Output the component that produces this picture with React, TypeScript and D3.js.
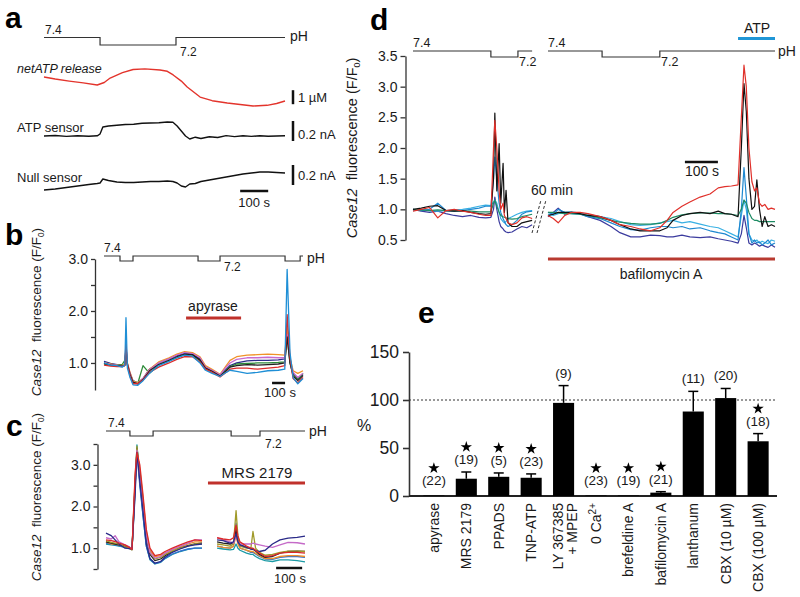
import React, { useEffect, useRef } from "react";
import * as d3 from "d3";

const FONT = "'Liberation Sans', Arial, Helvetica, sans-serif";

// ---------- panel a : netATP / sensors ----------
const A_PH_T = [0, 200, 471, 860];
const A_PH_V = [7.4, 7.2, 7.4, 7.4];
const A_NET_T = [0, 40, 90, 140, 190, 215, 236, 280, 318, 360, 414, 440, 461, 490, 511, 557, 600, 654, 700, 746, 796, 830, 860];
const A_NET = [2.14, 2.0, 1.85, 1.72, 1.57, 1.75, 2.07, 2.45, 2.68, 2.72, 2.64, 2.55, 2.29, 1.85, 1.43, 0.71, 0.45, 0.29, 0.18, 0.07, 0.12, 0.25, 0.43];
const A_SENS_T = [0, 40, 80, 120, 160, 190, 200, 210, 230, 260, 290, 320, 350, 380, 410, 440, 460, 475, 490, 505, 520, 540, 560, 590, 620, 650, 680, 710, 740, 770, 800, 830, 860];
const A_ATP = [0, 0.005, -0.004, 0.003, -0.002, 0.002, 0.02, 0.09, 0.1, 0.108, 0.115, 0.118, 0.127, 0.13, 0.133, 0.14, 0.137, 0.1, 0.05, 0.0, -0.03, -0.012, -0.025, -0.008, -0.015, 0.004, -0.006, 0.003, -0.004, 0.002, -0.003, 0.0, 0.002];
const A_NULL = [0, 0.01, 0.025, 0.04, 0.055, 0.065, 0.07, 0.11, 0.095, 0.08, 0.075, 0.075, 0.08, 0.085, 0.085, 0.09, 0.085, 0.07, 0.04, 0.03, 0.06, 0.065, 0.085, 0.1, 0.115, 0.13, 0.145, 0.16, 0.17, 0.18, 0.18, 0.175, 0.17];

// ---------- panel b : apyrase ----------
const B_PH_T = [0, 123, 223, 723, 892, 1392, 1508, 1530];
const B_PH_V = [7.4, 7.2, 7.4, 7.2, 7.4, 7.2, 7.4, 7.4];
const B_T = [0, 50, 100, 140, 160, 169, 180, 200, 223, 260, 300, 350, 420, 500, 560, 620, 680, 738, 780, 831, 892, 940, 969, 1020, 1100, 1180, 1260, 1340, 1390, 1408, 1430, 1454, 1490, 1530];
const B_NAVY = [1.03, 0.99, 0.97, 0.95, 0.97, 1.25, 0.98, 0.8, 0.66, 0.62, 0.7, 0.88, 1.0, 1.08, 1.14, 1.19, 1.18, 1.08, 0.92, 0.86, 0.76, 0.88, 0.95, 1.0, 1.04, 1.05, 1.05, 1.06, 1.08, 1.6, 1.05, 0.8, 0.7, 0.78];
const B_GREEN = [0.98, 0.96, 0.97, 0.97, 1.05, 1.2, 0.96, 0.78, 0.64, 0.61, 0.95, 0.8, 0.97, 1.04, 1.1, 1.16, 1.15, 1.05, 0.9, 0.84, 0.75, 0.86, 0.93, 0.98, 0.99, 1.0, 1.0, 1.01, 1.02, 1.5, 1.0, 0.78, 0.68, 0.8];
const B_ORANGE = [1.0, 0.98, 0.96, 0.95, 0.98, 1.3, 1.0, 0.82, 0.65, 0.62, 0.7, 0.88, 1.02, 1.1, 1.17, 1.22, 1.2, 1.12, 0.95, 0.88, 0.78, 0.95, 1.05, 1.12, 1.15, 1.16, 1.17, 1.16, 1.15, 1.7, 1.1, 0.85, 0.8, 0.85];
const B_PINK = [1.0, 0.97, 0.96, 0.94, 0.96, 1.35, 0.98, 0.8, 0.63, 0.6, 0.7, 0.87, 1.0, 1.08, 1.15, 1.2, 1.18, 1.1, 0.92, 0.86, 0.77, 0.92, 1.0, 1.07, 1.1, 1.1, 1.11, 1.1, 1.1, 1.55, 1.05, 0.82, 0.72, 0.8];
const B_BLACK = [0.99, 0.96, 0.95, 0.94, 0.95, 1.3, 0.97, 0.78, 0.63, 0.6, 0.68, 0.85, 0.97, 1.05, 1.12, 1.17, 1.16, 1.06, 0.9, 0.84, 0.75, 0.85, 0.92, 0.95, 0.97, 0.96, 0.97, 0.98, 1.0, 1.5, 1.0, 0.75, 0.66, 0.76];
const B_BLUE = [1.0, 0.96, 0.95, 0.92, 0.96, 1.87, 0.9, 0.72, 0.58, 0.57, 0.66, 0.8, 0.95, 1.03, 1.1, 1.15, 1.13, 1.0, 0.86, 0.8, 0.74, 0.82, 0.86, 0.84, 0.8, 0.82, 0.85, 0.86, 0.88, 2.8, 1.2, 0.72, 0.6, 0.7];
const B_RED = [0.96, 0.94, 0.93, 0.93, 0.95, 1.4, 0.95, 0.75, 0.6, 0.6, 0.67, 0.82, 0.92, 1.0, 1.07, 1.12, 1.12, 1.02, 0.88, 0.82, 0.73, 0.82, 0.88, 0.9, 0.9, 0.88, 0.9, 0.92, 0.95, 1.93, 1.1, 0.7, 0.62, 0.72];
const B_APYRASE = [631, 1054];

// ---------- panel c : MRS 2179 (null = gap in recording) ----------
const C_PH_T = [0, 92, 181, 481, 592, 765];
const C_PH_V = [7.4, 7.2, 7.4, 7.2, 7.4, 7.4];
const C_T = [0, 20, 35, 50, 73, 90, 100, 112, 119, 130, 142, 155, 169, 188, 210, 227, 255, 285, 315, 342, 369, 398, 427, 450, 477, 490, 500, 507, 515, 540, 557, 565, 575, 590, 612, 640, 669, 700, 735, 765];
const C_NAVY = [1.36, 1.3, 1.2, 1.1, 1.0, 0.99, 0.98, 2.3, 3.3, 2.6, 1.9, 1.1, 0.75, 0.64, 0.68, 0.78, 0.9, 0.98, 1.05, 1.08, 1.1, null, 1.2, 1.18, 1.12, 1.15, 1.35, 1.15, 1.08, 1.02, 0.98, 0.97, 0.95, 0.92, 0.95, 1.1, 1.2, 1.24, 1.26, 1.29];
const C_PINK = [1.25, 1.22, 1.3, 1.15, 1.08, 1.03, 0.98, 2.5, 3.35, 2.7, 2.0, 1.3, 0.9, 0.76, 0.8, 0.88, 0.97, 1.05, 1.12, 1.2, 1.2, null, 1.25, 1.2, 1.15, 1.12, 1.3, 1.15, 1.1, 1.1, 1.1, 1.12, 1.1, 1.08, 1.05, 1.02, 1.08, 1.14, 1.13, 1.1];
const C_OLIVE = [1.18, 1.14, 1.12, 1.1, 1.04, 1.0, 0.97, 2.5, 3.45, 2.7, 2.0, 1.3, 0.9, 0.74, 0.78, 0.85, 0.93, 1.0, 1.05, 1.1, 1.1, null, 1.1, 1.08, 1.05, 1.1, 1.9, 1.3, 1.05, 1.0, 1.0, 1.4, 1.0, 0.9, 0.83, 0.85, 0.9, 0.93, 0.93, 0.92];
const C_ORANGE = [1.15, 1.1, 1.1, 1.08, 1.05, 1.0, 0.96, 2.7, 3.3, 2.9, 2.2, 1.4, 0.95, 0.8, 0.82, 0.88, 0.96, 1.03, 1.1, 1.15, 1.15, null, 1.05, 1.02, 1.0, 1.05, 1.3, 1.1, 1.0, 0.95, 0.92, 0.92, 0.88, 0.82, 0.75, 0.75, 0.8, 0.82, 0.82, 0.8];
const C_BLACK = [1.15, 1.12, 1.1, 1.08, 1.05, 1.02, 0.98, 2.6, 3.4, 2.8, 2.1, 1.25, 0.85, 0.7, 0.74, 0.82, 0.92, 1.0, 1.06, 1.1, 1.12, null, 1.15, 1.12, 1.1, 1.12, 1.45, 1.2, 1.08, 1.02, 0.98, 0.98, 0.93, 0.85, 0.78, 0.8, 0.88, 0.92, 0.93, 0.92];
const C_BLUE = [1.12, 1.1, 1.08, 1.06, 1.03, 1.0, 0.97, 2.5, 3.3, 2.5, 1.8, 1.05, 0.74, 0.63, 0.67, 0.76, 0.86, 0.93, 0.98, 1.0, 1.0, null, 1.05, 1.02, 1.0, 1.05, 1.6, 1.15, 1.0, 0.95, 0.9, 0.9, 0.86, 0.8, 0.74, 0.73, 0.78, 0.8, 0.8, 0.78];
const C_TEAL = [1.1, 1.08, 1.07, 1.05, 1.02, 0.99, 0.96, 2.4, 3.48, 2.6, 1.8, 1.05, 0.72, 0.62, 0.66, 0.75, 0.85, 0.92, 0.97, 1.0, 1.0, null, 1.0, 0.98, 0.96, 0.97, 1.1, 1.0, 0.95, 0.88, 0.85, 0.85, 0.8, 0.75, 0.7, 0.68, 0.72, 0.72, 0.7, 0.67];
const C_RED = [1.2, 1.18, 1.16, 1.12, 1.08, 1.02, 0.97, 2.8, 3.3, 3.0, 2.3, 1.45, 1.0, 0.82, 0.85, 0.92, 1.0, 1.08, 1.15, 1.2, 1.18, null, 1.25, 1.22, 1.2, 1.25, 1.55, 1.3, 1.15, 1.05, 1.0, 1.0, 0.95, 0.88, 0.8, 0.82, 0.88, 0.9, 0.9, 0.88];
const C_MRS = [392, 765];

// ---------- panel d : bafilomycin A (null = 60 min break) ----------
const D_PH1_T = [0, 236, 318, 361];
const D_PH2_T = [409, 573, 748, 1097];
const D_PH_V = [7.4, 7.2, 7.4, 7.4];
const D_T = [0, 25, 50, 75, 100, 125, 150, 175, 200, 220, 236, 244, 248, 254, 261, 266, 273, 277, 282, 288, 300, 315, 330, 345, 361,
  385,
  409, 425, 440, 460, 480, 506, 530, 567, 600, 627, 660, 688, 720, 748, 770, 788, 815, 839, 870, 900, 925, 945, 965, 985, 995, 1003, 1010, 1018, 1027, 1035, 1042, 1050, 1058, 1066, 1076, 1086, 1097];
const D_NAVY = [1.0, 0.97, 0.95, 0.97, 0.93, 0.9, 0.88, 0.9, 0.87, 0.86, 0.87, 1.0, 1.2, 1.0, 0.8, 0.72, 0.68, 0.65, 0.63, 0.62, 0.63, 0.68, 0.72, 0.7, 0.75,
  null,
  0.88, 0.95, 1.02, 0.92, 0.95, 0.93, 0.88, 0.82, 0.72, 0.62, 0.55, 0.55, 0.58, 0.57, 0.55, 0.55, 0.58, 0.55, 0.54, 0.55, 0.52, 0.5, 0.48, 0.45, 0.6, 0.9, 0.7, 0.45, 0.42, 0.45, 0.43, 0.4, 0.42, 0.4, 0.38, 0.42, 0.38];
const D_SKY = [0.98, 1.0, 0.98, 0.97, 0.98, 0.99, 1.0, 1.02, 1.05, 1.07, 1.06, 1.12, 1.15, 1.1, 0.95, 0.85, 0.8, 0.78, 0.8, 0.85, 0.88, 0.92, 0.95, 0.97, 0.98,
  null,
  0.92, 0.9, 0.93, 0.95, 0.96, 0.94, 0.92, 0.88, 0.85, 0.8, 0.75, 0.74, 0.75, 0.78, 0.8, 0.82, 0.78, 0.8, 0.76, 0.72, 0.7, 0.65, 0.6, 0.55, 0.9, 1.15, 1.0, 0.6, 0.5, 0.48, 0.5, 0.45, 0.48, 0.46, 0.44, 0.5, 0.48];
const D_BLUE = [1.0, 0.98, 1.0, 1.1, 0.98, 0.97, 0.98, 1.0, 1.02, 1.05, 1.05, 1.5, 1.85, 1.5, 1.1, 0.95, 0.85, 0.8, 0.75, 0.72, 0.75, 0.82, 0.92, 0.96, 0.97,
  null,
  0.95, 0.92, 1.0, 0.95, 0.93, 0.92, 0.88, 0.85, 0.78, 0.72, 0.67, 0.66, 0.7, 0.72, 0.72, 0.7, 0.72, 0.68, 0.7, 0.65, 0.62, 0.6, 0.55, 0.5, 1.0, 1.68, 1.2, 0.6, 0.45, 0.5, 0.45, 0.47, 0.42, 0.45, 0.5, 0.42, 0.45];
const D_GREEN = [1.0, 0.99, 0.98, 0.99, 0.98, 0.98, 0.97, 0.97, 0.96, 0.96, 0.96, 1.1, 1.15, 1.05, 0.95, 0.9, 0.88, 0.87, 0.86, 0.85, 0.84, 0.85, 0.88, 0.9, 0.92,
  null,
  0.95, 0.95, 0.94, 0.93, 0.93, 0.92, 0.9, 0.86, 0.82, 0.79, 0.77, 0.76, 0.76, 0.77, 0.82, 0.87, 0.91, 0.93, 0.94, 0.94, 0.93, 0.93, 0.92, 0.9, 1.0, 1.15, 1.1, 0.95, 0.85, 0.82, 0.82, 0.8, 0.8, 0.8, 0.8, 0.8, 0.8];
const D_BLACK = [1.0, 1.02, 1.05, 1.06, 0.98, 0.97, 0.98, 0.95, 0.93, 0.92, 0.93, 1.5, 2.57, 1.3, 2.07, 1.1, 1.75, 0.95, 1.31, 0.78, 0.72, 0.72, 0.78, 0.8, 0.82,
  null,
  0.9, 0.92, 0.95, 0.95, 0.95, 0.93, 0.9, 0.88, 0.82, 0.75, 0.68, 0.65, 0.65, 0.65, 0.7, 0.82, 0.9, 0.93, 0.95, 0.93, 0.97, 0.93, 0.92, 0.88, 2.0, 3.05, 2.6, 1.5, 1.0, 1.05, 1.48, 1.0, 0.72, 0.88, 0.72, 0.75, 0.72];
const D_RED = [0.97, 1.0, 1.03, 0.86, 0.98, 1.0, 0.97, 0.95, 0.92, 0.9, 0.9, 2.0, 2.45, 2.0, 1.3, 1.0, 1.1, 0.9, 0.85, 0.78, 0.75, 0.78, 0.86, 0.88, 0.85,
  null,
  0.9, 0.85, 0.78, 0.9, 0.95, 0.95, 0.93, 0.88, 0.82, 0.75, 0.72, 0.68, 0.65, 0.7, 0.82, 0.95, 1.05, 1.12, 1.2, 1.25, 1.35, 1.37, 1.38, 1.4, 2.5, 3.35, 3.0, 2.0, 1.45, 1.3, 1.35, 1.1, 1.05, 1.08, 1.0, 1.02, 1.0];
const D_ATP = [985, 1097];
const D_BAFILO = [409, 1097];

// ---------- panel e : summary ----------
const E_CATS = ["apyrase", "MRS 2179", "PPADS", "TNP-ATP", "LY 367385", "0 Ca", "brefeldine A", "bafilomycin A", "lanthanum", "CBX (10 µM)", "CBX (100 µM)"];
const E_MEAN = [0.5, 18, 20, 19, 97, 0.5, 0.5, 3.5, 88, 102, 57];
const E_SEM = [0, 7, 4, 4, 18, 0, 0, 1, 21, 10, 8];
const E_N = [22, 19, 5, 23, 9, 23, 19, 21, 11, 20, 18];
const E_SIG = [true, true, true, true, false, true, true, true, false, false, true];

const App = () => {
  const svgRef = useRef<SVGSVGElement>(null);

  useEffect(() => {
    const svg = d3.select(svgRef.current);
    svg.selectAll("*").remove();
    svg.append("rect").attr("width", 800).attr("height", 597).attr("fill", "#fff");

    const text = (x: number, y: number, s: string, size = 13, anchor = "start") =>
      svg.append("text").attr("x", x).attr("y", y).attr("font-size", size)
        .attr("font-family", FONT).attr("fill", "#1a1a1a").attr("text-anchor", anchor).text(s);

    const trace = (T: number[], V: (number | null)[], x: any, y: any, color: string, w = 1) => {
      const line = d3.line<number | null>()
        .defined((v) => v != null)
        .x((_, i) => x(T[i]))
        .y((v) => y(v as number));
      svg.append("path").attr("d", line(V)).attr("fill", "none")
        .attr("stroke", color).attr("stroke-width", w).attr("stroke-linejoin", "round");
    };

    const phLine = (T: number[], V: number[], x: any, y: any) => {
      const line = d3.line<number>().x((_, i) => x(T[i])).y((v) => y(v)).curve(d3.curveStepAfter);
      svg.append("path").attr("d", line(V)).attr("fill", "none").attr("stroke", "#333").attr("stroke-width", 1.2);
    };

    const hbar = (x0: number, x1: number, y: number, color: string, w = 3) =>
      svg.append("line").attr("x1", x0).attr("x2", x1).attr("y1", y).attr("y2", y)
        .attr("stroke", color).attr("stroke-width", w);

    const vbar = (x: number, y0: number, y1: number) =>
      svg.append("line").attr("x1", x).attr("x2", x).attr("y1", y0).attr("y2", y1)
        .attr("stroke", "#111").attr("stroke-width", 2.5);

    const yLabel = (cx: number, cy: number, size: number) => {
      const t = svg.append("text").attr("transform", `translate(${cx},${cy}) rotate(-90)`)
        .attr("text-anchor", "middle").attr("font-size", size).attr("font-family", FONT)
        .attr("fill", "#1a1a1a").style("white-space", "pre");
      t.append("tspan").attr("font-style", "italic").text("Case12");
      t.append("tspan").text("  fluorescence (F/F");
      t.append("tspan").attr("font-size", size * 0.62).attr("dy", 3).text("0");
      t.append("tspan").attr("dy", -3).text(")");
    };

    const styleAxis = (g: any, size: number) => {
      g.attr("font-family", FONT).attr("font-size", size);
      g.selectAll("path, line").attr("stroke", "#333").attr("stroke-width", 1.3);
      g.selectAll("text").attr("fill", "#1a1a1a");
    };

    const panelLetter = (x: number, y: number, s: string) =>
      svg.append("text").attr("x", x).attr("y", y).attr("font-size", 30).attr("font-weight", "bold")
        .attr("font-family", FONT).attr("fill", "#000").text(s);

    // ===== a =====
    panelLetter(5, 28, "a");
    const xA = d3.scaleLinear().domain([0, 860]).range([44, 285]);
    const phA = d3.scaleLinear().domain([7.2, 7.4]).range([45, 37.5]);
    const netY = d3.scaleLinear().domain([0, 1]).range([107, 93]);
    const atpY = d3.scaleLinear().domain([0, 0.1]).range([136, 126]);
    const nullY = d3.scaleLinear().domain([0, 0.1]).range([190, 180]);
    phLine(A_PH_T, A_PH_V, xA, phA);
    text(45, 34, "7.4", 12);
    text(180, 56, "7.2", 12);
    text(290, 41, "pH", 14);
    text(17, 73, "netATP release", 12.5).attr("font-style", "italic");
    trace(A_NET_T, A_NET, xA, netY, "#e3342c", 1.4);
    text(17, 132, "ATP sensor", 13);
    trace(A_SENS_T, A_ATP, xA, atpY, "#111", 1.4);
    text(17, 182, "Null sensor", 13);
    trace(A_SENS_T, A_NULL, xA, nullY, "#111", 1.4);
    vbar(293, netY(1.2), netY(0.2));
    text(298, 102, "1 µM", 13);
    vbar(293, atpY(0.15), atpY(-0.05));
    text(298, 139, "0.2 nA", 13);
    vbar(293, nullY(0.25), nullY(0.05));
    text(298, 180, "0.2 nA", 13);
    hbar(xA(700), xA(800), 191, "#111", 2.5);
    text((xA(700) + xA(800)) / 2, 207, "100 s", 13, "middle");

    // ===== b =====
    panelLetter(5, 245, "b");
    const xB = d3.scaleLinear().domain([0, 1530]).range([104, 303]);
    const yB = d3.scaleLinear().domain([0.48, 3.0]).range([390, 259]);
    const phB = d3.scaleLinear().domain([7.2, 7.4]).range([261, 256]);
    const axB = svg.append("g").attr("transform", "translate(95,0)")
      .call(d3.axisLeft(yB).tickValues([1.0, 1.5, 2.0, 2.5, 3.0]).tickSize(4).tickSizeOuter(0)
        .tickFormat((d: any) => (Number.isInteger(d) ? d3.format(".1f")(d) : "")));
    styleAxis(axB, 14);
    yLabel(41, 312, 13.5);
    phLine(B_PH_T, B_PH_V, xB, phB);
    text(104, 252, "7.4", 12);
    text(224, 271, "7.2", 12);
    text(307, 263, "pH", 14);
    text(213, 311, "apyrase", 14, "middle");
    hbar(xB(B_APYRASE[0]), xB(B_APYRASE[1]), 318, "#c0312b", 3);
    [[B_NAVY, "#2c2c8a"], [B_GREEN, "#2e8b3a"], [B_ORANGE, "#f0922a"], [B_PINK, "#c86ad0"],
      [B_BLACK, "#222"], [B_RED, "#dd2a2a"], [B_BLUE, "#1f8fd6"]].forEach(([v, c]) =>
      trace(B_T, v as number[], xB, yB, c as string, 1.3));
    hbar(xB(1292), xB(1392), 383, "#111", 2.5);
    text(280, 397, "100 s", 13, "middle");

    // ===== c =====
    panelLetter(6, 436, "c");
    const xC = d3.scaleLinear().domain([0, 765]).range([106, 305]);
    const yC = d3.scaleLinear().domain([0.5, 3.5]).range([569, 444]);
    const phC = d3.scaleLinear().domain([7.2, 7.4]).range([436, 431]);
    const axC = svg.append("g").attr("transform", "translate(97.5,0)")
      .call(d3.axisLeft(yC).tickValues([0.5, 1.0, 1.5, 2.0, 2.5, 3.0, 3.5]).tickSize(4).tickSizeOuter(0)
        .tickFormat((d: any) => (Number.isInteger(d) ? d3.format(".1f")(d) : "")));
    styleAxis(axC, 14);
    yLabel(41, 497, 13.5);
    phLine(C_PH_T, C_PH_V, xC, phC);
    text(108, 427, "7.4", 12);
    text(265, 448, "7.2", 12);
    text(309, 436, "pH", 14);
    text(257, 478, "MRS 2179", 15, "middle");
    hbar(xC(C_MRS[0]), xC(C_MRS[1]), 483, "#c0312b", 3);
    [[C_TEAL, "#1a9aa5"], [C_BLUE, "#2f6fd0"], [C_ORANGE, "#ee8f2a"], [C_BLACK, "#222"],
      [C_OLIVE, "#a09a2a"], [C_PINK, "#c56ac8"], [C_NAVY, "#2a2a88"], [C_RED, "#dc2a2a"]].forEach(([v, c]) =>
      trace(C_T, v as (number | null)[], xC, yC, c as string, 1.3));
    hbar(xC(654), xC(754), 568, "#111", 2.5);
    text(290, 583, "100 s", 13, "middle");

    // ===== d =====
    panelLetter(370, 30, "d");
    const xD = d3.scaleLinear().domain([0, 1097]).range([413, 775]);
    const yD = d3.scaleLinear().domain([0.5, 3.5]).range([240, 56]);
    const phD = d3.scaleLinear().domain([7.2, 7.4]).range([57, 51]);
    const axD = svg.append("g").attr("transform", "translate(405.5,0)")
      .call(d3.axisLeft(yD).tickValues([0.5, 1.0, 1.5, 2.0, 2.5, 3.0, 3.5]).tickSize(5).tickSizeOuter(0)
        .tickFormat(d3.format(".1f") as any));
    styleAxis(axD, 14);
    yLabel(357, 148, 14.5);
    phLine(D_PH1_T, D_PH_V, xD, phD);
    phLine(D_PH2_T, D_PH_V, xD, phD);
    text(413, 47, "7.4", 12.5);
    text(519, 66, "7.2", 12.5);
    text(548, 47, "7.4", 12.5);
    text(661, 66, "7.2", 12.5);
    text(778, 56, "pH", 14);
    text(757, 33, "ATP", 14, "middle");
    hbar(xD(D_ATP[0]), xD(D_ATP[1]), 38.5, "#1f96d6", 3);
    [[D_NAVY, "#3b3b9e"], [D_SKY, "#38b0e3"], [D_BLUE, "#1e88d0"], [D_GREEN, "#1e8c64"],
      [D_BLACK, "#111"], [D_RED, "#e0302a"]].forEach(([v, c]) =>
      trace(D_T, v as (number | null)[], xD, yD, c as string, 1.2));
    // break marks
    [0, 5].forEach((o) =>
      svg.append("line").attr("x1", 532 + o).attr("y1", 233).attr("x2", 541 + o).attr("y2", 200)
        .attr("stroke", "#333").attr("stroke-width", 1).attr("stroke-dasharray", "3,2"));
    text(552, 195, "60 min", 14, "middle");
    hbar(xD(824), xD(924), 162, "#111", 2.5);
    text(702, 176, "100 s", 14, "middle");
    hbar(xD(D_BAFILO[0]), xD(D_BAFILO[1]), 259, "#b83a30", 3);
    text(661, 279, "bafilomycin A", 14, "middle");

    // ===== e =====
    panelLetter(418, 323, "e");
    const xE = d3.scaleBand().domain(E_CATS).range([412, 780]).padding(0.35);
    const yE = d3.scaleLinear().domain([0, 150]).range([496, 352]);
    const axE = svg.append("g").attr("transform", "translate(409,0)")
      .call(d3.axisLeft(yE).tickValues([0, 50, 100, 150]).tickSize(6).tickSizeOuter(0).tickPadding(4));
    styleAxis(axE, 17.5);
    axE.selectAll("path, line").attr("stroke-width", 1.6);
    svg.append("line").attr("x1", 409).attr("x2", 777).attr("y1", yE(0)).attr("y2", yE(0))
      .attr("stroke", "#222").attr("stroke-width", 1.8);
    svg.append("line").attr("x1", 409).attr("x2", 777).attr("y1", yE(100)).attr("y2", yE(100))
      .attr("stroke", "#333").attr("stroke-width", 1).attr("stroke-dasharray", "2,2");
    text(364, 431, "%", 16, "middle");
    const star = d3.symbol().type(d3.symbolStar).size(40);
    E_CATS.forEach((c, i) => {
      const cx = (xE(c) as number) + xE.bandwidth() / 2;
      const top = yE(E_MEAN[i]);
      svg.append("rect").attr("x", xE(c) as number).attr("y", top).attr("width", xE.bandwidth())
        .attr("height", yE(0) - top).attr("fill", "#000");
      const errTop = yE(E_MEAN[i] + E_SEM[i]);
      if (E_SEM[i] > 0) {
        svg.append("line").attr("x1", cx).attr("x2", cx).attr("y1", top).attr("y2", errTop)
          .attr("stroke", "#000").attr("stroke-width", 1.5);
        svg.append("line").attr("x1", cx - 5).attr("x2", cx + 5).attr("y1", errTop).attr("y2", errTop)
          .attr("stroke", "#000").attr("stroke-width", 1.5);
      }
      const nY = Math.min(errTop, yE(3)) - 8;
      text(cx, nY, `(${E_N[i]})`, 13.5, "middle");
      if (E_SIG[i]) {
        svg.append("path").attr("d", star).attr("transform", `translate(${cx},${nY - 17})`).attr("fill", "#000");
      }
      // rotated category label
      const lab = svg.append("text").attr("transform", `translate(${cx},503) rotate(-90)`)
        .attr("text-anchor", "end").attr("font-size", 14).attr("font-family", FONT).attr("fill", "#1a1a1a");
      if (c === "LY 367385") {
        lab.append("tspan").attr("x", 0).attr("y", -1).text("LY 367385");
        lab.append("tspan").attr("x", 0).attr("y", 13).text("+ MPEP");
      } else if (c === "0 Ca") {
        lab.attr("y", 5);
        lab.append("tspan").text("0 Ca");
        lab.append("tspan").attr("font-size", 10).attr("dy", -5).text("2+");
      } else {
        lab.attr("y", 5).text(c);
      }
    });
  }, []);

  return (
    <svg
      ref={svgRef}
      width={800}
      height={597}
      style={{ position: "absolute", left: 0, top: 0, display: "block" }}
    />
  );
};

export default App;
